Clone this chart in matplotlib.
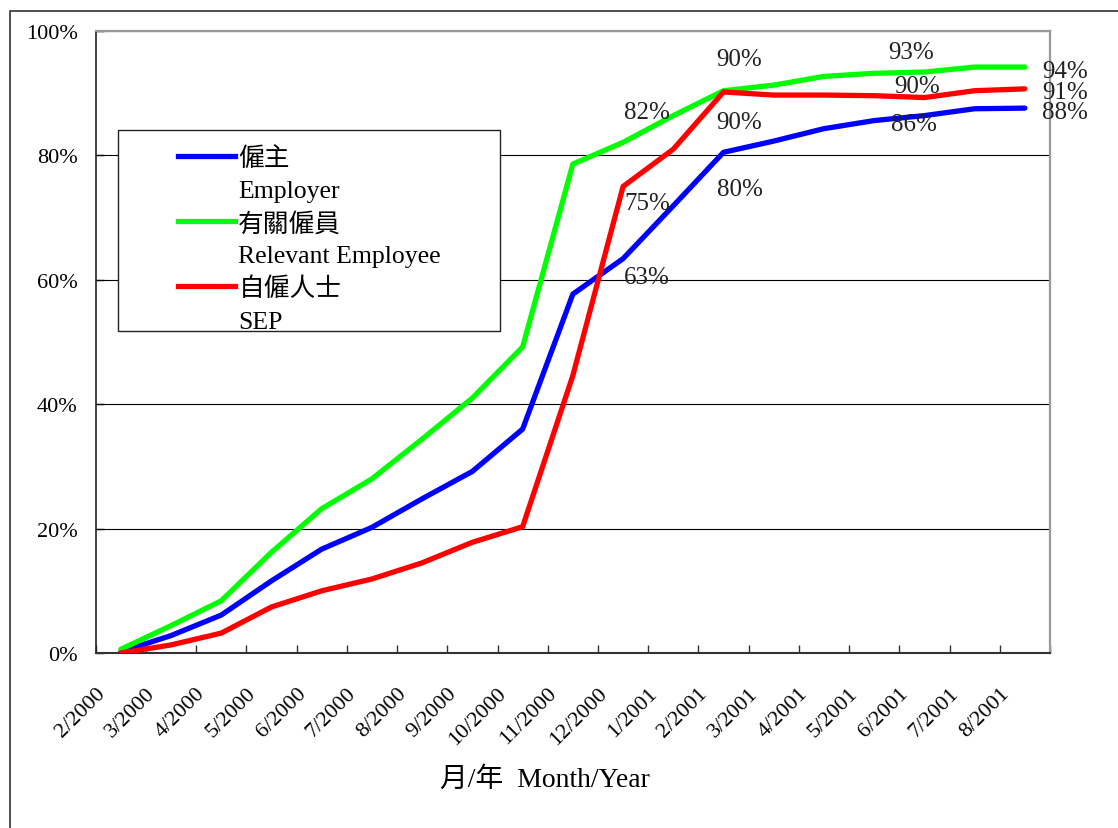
import matplotlib
matplotlib.use("Agg")
import matplotlib.pyplot as plt
import matplotlib.transforms as mtransforms
from matplotlib.lines import Line2D
from matplotlib.patches import Rectangle
from matplotlib.ticker import FixedLocator, FuncFormatter

# ===== 數據 =====
months = ["2/2000", "3/2000", "4/2000", "5/2000", "6/2000", "7/2000", "8/2000",
          "9/2000", "10/2000", "11/2000", "12/2000", "1/2001", "2/2001", "3/2001",
          "4/2001", "5/2001", "6/2001", "7/2001", "8/2001"]

employer = [0.2, 2.8, 6.1, 11.6, 16.7, 20.2, 24.8, 29.2, 36.0, 57.7,
            63.4, 71.9, 80.5, 82.3, 84.3, 85.6, 86.4, 87.5, 87.6]
relevant = [0.6, 4.4, 8.4, 16.2, 23.2, 28.0, 34.4, 41.0, 49.2, 78.6,
            82.1, 86.4, 90.4, 91.3, 92.7, 93.2, 93.4, 94.2, 94.2]
sep = [0.0, 1.3, 3.2, 7.4, 10.0, 11.9, 14.5, 17.8, 20.3, 44.6,
       75.0, 81.0, 90.2, 89.7, 89.7, 89.6, 89.3, 90.4, 90.7]

# (series, index, text)
point_labels = [
    ("relevant", 10, "82%"), ("relevant", 12, "90%"), ("relevant", 16, "93%"), ("relevant", 18, "94%"),
    ("sep", 10, "75%"), ("sep", 12, "90%"), ("sep", 16, "90%"), ("sep", 18, "91%"),
    ("employer", 10, "63%"), ("employer", 12, "80%"), ("employer", 16, "86%"), ("employer", 18, "88%"),
]
# offsets in pixels for each label above
label_offsets = [(24, 30), (16, 32), (-13, 20), (17, -4),
                 (24, -17), (16, -30), (-7, 12), (17, -3),
                 (24, -18), (16, -37), (-10, -8), (17, -4)]

# ===== 樣式 =====
W, H = 1118, 829
SERIF = ["Liberation Serif", "Noto Sans CJK TC", "DejaVu Sans"]
plt.rcParams["font.family"] = SERIF

fig = plt.figure(figsize=(W / 100, H / 100), dpi=100)
ax = fig.add_axes([95.7 / W, (H - 654) / H, (1050 - 95.7) / W, 622 / H])

series = {"employer": employer, "relevant": relevant, "sep": sep}
colors = {"employer": "#0000FF", "relevant": "#00FF00", "sep": "#FF0000"}

x = list(range(len(months)))
for key in ["employer", "relevant", "sep"]:
    ax.plot(x, series[key], color=colors[key], lw=3.8, solid_capstyle="round",
            solid_joinstyle="round", zorder=3)

for (key, i, txt), (dx, dy) in zip(point_labels, label_offsets):
    ha = "left" if i == len(months) - 1 else "center"
    ax.annotate(txt, xy=(i, series[key][i]), xytext=(dx, dy), textcoords="offset pixels",
                ha=ha, va="center", fontsize=18, color="#222222", zorder=4,
                annotation_clip=False)

# ===== 坐標軸 =====
ax.set_xlim(-0.5, len(months) - 0.5)
ax.set_ylim(0, 100)
ax.set_yticks([0, 20, 40, 60, 80, 100])
ax.yaxis.set_major_formatter(FuncFormatter(lambda v, p: f"{v:.0f}%"))
ax.grid(axis="y", color="black", lw=0.8, zorder=1)
ax.set_axisbelow(True)

ax.set_xticks(x)
ax.set_xticklabels(months, rotation=45, ha="right", fontsize=16)
ax.xaxis.set_minor_locator(FixedLocator([i - 0.5 for i in range(len(months) + 1)]))
ax.tick_params(axis="x", which="major", length=0, pad=22)
ax.tick_params(axis="x", which="minor", direction="in", length=6, width=1, color="#333333")
ax.tick_params(axis="y", direction="in", length=6, width=1, labelsize=16, pad=13)
shift = mtransforms.ScaledTranslation(-12 / 100, 0, fig.dpi_scale_trans)
for lab in ax.get_xticklabels():
    lab.set_transform(lab.get_transform() + shift)

for s in ["top", "right"]:
    ax.spines[s].set_color("#999999")
    ax.spines[s].set_linewidth(1.6)
ax.spines["left"].set_color("#222222")
ax.spines["left"].set_linewidth(1.2)
ax.spines["bottom"].set_color("#333333")
ax.spines["bottom"].set_linewidth(1.5)

ax.set_xlabel("月/年  Month/Year", fontsize=20, va="center")
ax.xaxis.set_label_coords((545 - 95.7) / 954.3, -(780 - 654) / 622)

# ===== 圖例 =====
fig.patches.append(Rectangle((118 / W, 1 - 332 / H), (500 - 118) / W, (332 - 131) / H,
                             transform=fig.transFigure, facecolor="white",
                             edgecolor="#222222", lw=1.0, zorder=2))
blank = Line2D([], [], color="none")
handles = [Line2D([], [], color=colors["employer"], lw=3.8), blank,
           Line2D([], [], color=colors["relevant"], lw=3.8), blank,
           Line2D([], [], color=colors["sep"], lw=3.8), blank]
texts = ["僱主", "Employer", "有關僱員", "Relevant Employee", "自僱人士", "SEP"]
fig.legend(handles, texts, loc="upper left", bbox_to_anchor=(178 / W, 1 - 147 / H),
           frameon=False, fontsize=18.5, handlelength=2.2, handletextpad=0.15,
           labelspacing=0.36, borderpad=0, borderaxespad=0)

# 外框
fig.patches.append(Rectangle((10 / W, -0.1), 1.2, 1.1 - 12 / H, transform=fig.transFigure,
                             fill=False, edgecolor="#333333", lw=1.2, zorder=1))

fig.savefig("out.png", dpi=100)
